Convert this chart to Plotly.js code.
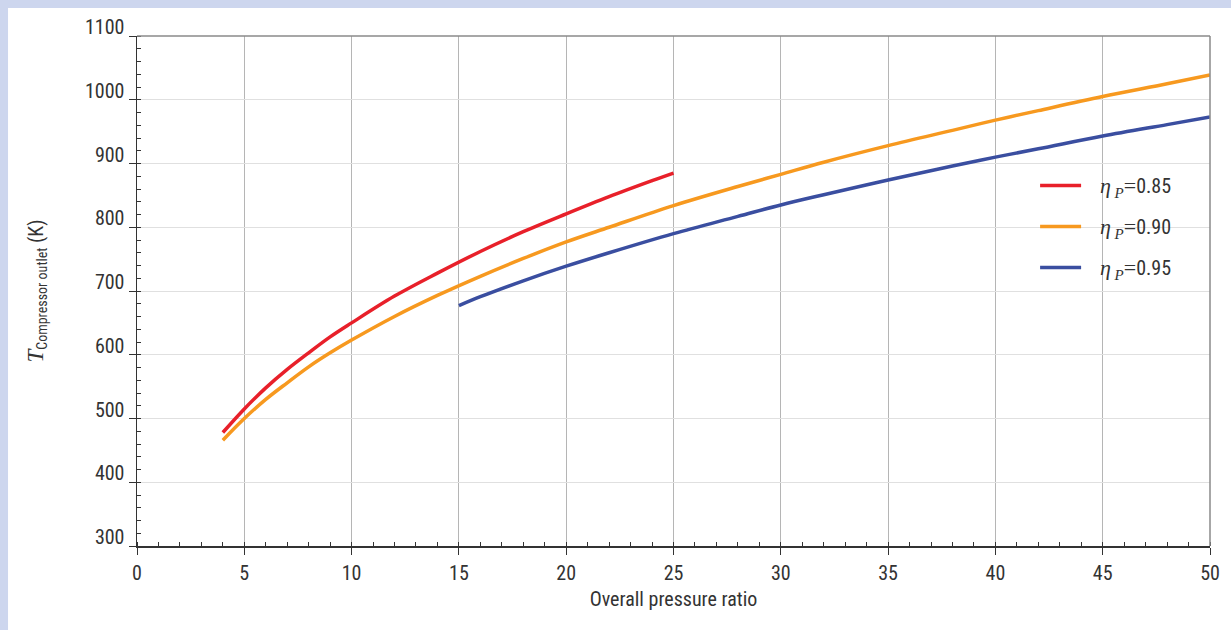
<!DOCTYPE html>
<html>
<head>
<meta charset="utf-8">
<script src="https://cdn.plot.ly/plotly-3.0.1.min.js"></script>
<style>html,body{margin:0;padding:0;background:#fff;}#chart{width:1231px;height:630px;}</style>
</head>
<body>
<div id="chart"></div>
<script>
// Data
const redX = [4, 5, 6, 7, 8, 9, 10, 12, 14, 16, 18, 20, 22, 24, 25];
const redY = [478, 515, 548, 577, 603, 628, 650, 692, 728, 762, 793, 821, 848, 873, 885];
const orangeX = [4, 5, 6, 7, 8, 9, 10, 12, 14, 16, 18, 20, 22, 25, 28, 30, 32, 35, 38, 40, 42, 45, 48, 50];
const orangeY = [466, 500, 530, 556, 581, 603, 623, 660, 693, 723, 751, 777, 800, 834, 864, 883, 902, 928, 952, 968, 983, 1005, 1025, 1039];
const blueX = [15, 16, 18, 20, 22, 25, 28, 30, 32, 35, 38, 40, 42, 45, 48, 50];
const blueY = [677, 691, 716, 739, 760, 790, 817, 835, 851, 874, 896, 910, 923, 943, 961, 973];
const seriesNames = ['0.85', '0.90', '0.95'];
const xTitle = 'Overall pressure ratio';

const FONT = 'Liberation Sans Narrow, Roboto Condensed, DejaVu Sans Condensed, Arial Narrow, sans-serif';
const SERIF = 'Liberation Serif, DejaVu Serif, serif';
const colors = ['#e8202a', '#f7991f', '#3a4ea0'];

function legName(v) {
  return '&nbsp;&nbsp;&nbsp;<span style="font-family:' + SERIF + ';font-size:22px"><i>η</i></span>' +
         '<sub><span style="font-family:' + SERIF + ';font-size:15px"><i> P</i></span></sub>' +
         '<span style="font-family:' + SERIF + ';font-size:22px">=</span>' + v;
}

const xs = [redX, orangeX, blueX];
const ys = [redY, orangeY, blueY];
const traces = xs.map((x, i) => ({
  x: x, y: ys[i], type: 'scatter', mode: 'lines',
  line: {color: colors[i], width: 3.5, shape: 'spline'},
  name: legName(seriesNames[i]),
  legendgroup: 'g' + i
}));

const layout = {
  width: 1231, height: 630,
  paper_bgcolor: '#cdd6ee',
  plot_bgcolor: '#ffffff',
  margin: {l: 137, r: 21, t: 36, b: 84},
  font: {family: FONT, size: 20, color: '#333'},
  showlegend: true,
  legend: {
    x: 0.837, y: 0.745, xanchor: 'left', yanchor: 'top',
    bgcolor: 'rgba(255,255,255,0)', borderwidth: 0,
    font: {family: FONT, size: 20, color: '#333'},
    itemwidth: 41,
    tracegroupgap: 12
  },
  xaxis: {
    range: [0, 50], dtick: 5, tick0: 0,
    showline: true, linecolor: '#333', linewidth: 1.5,
    ticks: 'outside', ticklen: 7, tickcolor: '#333', tickwidth: 1,
    ticklabelstandoff: 1,
    minor: {dtick: 1, ticks: 'inside', ticklen: 4, tickcolor: '#333', showgrid: false},
    showgrid: true, gridcolor: '#b5b5b5', gridwidth: 1,
    zeroline: false,
    title: {text: xTitle, font: {family: FONT, size: 20, color: '#333'}, standoff: 8},
    tickfont: {family: FONT, size: 20, color: '#333'}
  },
  yaxis: {
    range: [300, 1100], dtick: 100, tick0: 300,
    showline: true, linecolor: '#333', linewidth: 1.5,
    ticks: 'outside', ticklen: 7, tickcolor: '#333', tickwidth: 1,
    ticklabelshift: -9,
    minor: {dtick: 20, ticks: 'inside', ticklen: 4, tickcolor: '#333', showgrid: false},
    showgrid: true, gridcolor: '#e0e0e0', gridwidth: 1,
    zeroline: false,
    title: {
      text: '<span style="font-family:' + SERIF + ';font-style:italic;font-size:23px">T</span><sub>Compressor outlet</sub> (K)',
      font: {family: FONT, size: 20, color: '#333'}, standoff: 36
    },
    tickfont: {family: FONT, size: 20, color: '#333'}
  },
  shapes: [
    {type: 'rect', xref: 'paper', yref: 'paper', x0: -0.1202, x1: 1.03, y0: -0.2, y1: 1.0549,
     fillcolor: '#ffffff', line: {width: 0}, layer: 'below'},
    {type: 'line', xref: 'paper', yref: 'paper', x0: 0, x1: 1, y0: 1, y1: 1,
     line: {color: '#8a8a8a', width: 1.5}},
    {type: 'line', xref: 'paper', yref: 'paper', x0: 1, x1: 1, y0: 0, y1: 1,
     line: {color: '#8a8a8a', width: 1.5}}
  ]
};

Plotly.newPlot('chart', traces, layout, {staticPlot: true, displayModeBar: false});
</script>
</body>
</html>
